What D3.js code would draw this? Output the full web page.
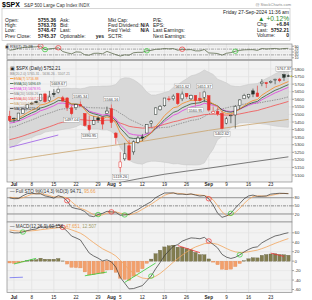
<!DOCTYPE html>
<html>
<head>
<meta charset="utf-8">
<script src="https://cdn.jsdelivr.net/npm/d3@7"></script>
<style>
body { margin: 0; background: #fff; }
svg text { font-family: "Liberation Sans", Arial, sans-serif; }
</style>
</head>
<body>
<div id="app"></div>
<script>
// trading days shown (Jun 28 .. Sep 27, 2024)
const dates = ["2024-06-28",
 "2024-07-01","2024-07-02","2024-07-03","2024-07-05","2024-07-08","2024-07-09","2024-07-10","2024-07-11","2024-07-12",
 "2024-07-15","2024-07-16","2024-07-17","2024-07-18","2024-07-19","2024-07-22","2024-07-23","2024-07-24","2024-07-25",
 "2024-07-26","2024-07-29","2024-07-30","2024-07-31",
 "2024-08-01","2024-08-02","2024-08-05","2024-08-06","2024-08-07","2024-08-08","2024-08-09","2024-08-12","2024-08-13",
 "2024-08-14","2024-08-15","2024-08-16","2024-08-19","2024-08-20","2024-08-21","2024-08-22","2024-08-23","2024-08-26",
 "2024-08-27","2024-08-28","2024-08-29","2024-08-30",
 "2024-09-03","2024-09-04","2024-09-05","2024-09-06","2024-09-09","2024-09-10","2024-09-11","2024-09-12","2024-09-13",
 "2024-09-16","2024-09-17","2024-09-18","2024-09-19","2024-09-20","2024-09-23","2024-09-24","2024-09-25","2024-09-26","2024-09-27"];
const open = [5488.5,
 5471.1,5461.8,5507.4,5537.9,5572.8,5584.2,5591.3,5635.2,5590.8,5638.2,5644.1,5610.1,5608.6,5543.4,5544.2,5565.3,5505.8,5428.7,5433.7,5476.6,5478.7,5505.6,
 5537.8,5376.6,5151.1,5206.4,5293.1,5252.6,5314.9,5351.9,5377.0,5442.0,5501.1,5530.5,5557.2,5602.9,5603.1,5637.8,5602.9,5639.7,5602.9,5624.5,5607.3,5612.7,
 5623.9,5506.7,5520.1,5507.3,5442.1,5490.5,5496.4,5557.5,5603.3,5615.2,5655.5,5641.7,5702.6,5709.2,5711.9,5727.0,5733.3,5762.2,5755.4];
const high = [5523.6,
 5479.6,5509.7,5539.3,5570.3,5583.1,5590.8,5635.4,5642.5,5655.6,5666.9,5669.7,5622.5,5614.1,5557.5,5570.4,5585.3,5508.0,5491.6,5488.3,5487.7,5489.5,5551.5,
 5566.2,5383.9,5250.9,5312.3,5330.6,5328.0,5358.7,5371.2,5436.5,5463.2,5546.2,5562.0,5608.3,5620.5,5632.7,5643.2,5651.6,5639.7,5631.2,5627.0,5647.0,5651.4,
 5623.9,5552.7,5546.3,5522.5,5484.2,5497.9,5560.4,5600.7,5636.3,5636.1,5670.8,5689.8,5733.6,5715.1,5725.4,5735.3,5741.0,5767.4,5763.8];
const low = [5451.1,
 5446.5,5458.4,5507.4,5531.6,5562.5,5574.6,5586.4,5576.5,5583.1,5614.1,5639.0,5584.8,5522.8,5497.0,5529.0,5550.9,5420.0,5391.0,5430.7,5444.4,5401.7,5504.4,
 5410.4,5302.4,5119.3,5193.6,5195.5,5233.9,5306.2,5324.4,5377.0,5416.0,5501.1,5525.2,5550.7,5585.5,5591.6,5561.0,5587.9,5602.8,5593.5,5560.2,5583.7,5581.3,
 5518.3,5503.4,5490.4,5402.6,5434.5,5441.7,5407.0,5535.5,5601.6,5604.5,5614.1,5615.1,5686.4,5674.5,5704.2,5699.0,5712.3,5721.0,5748.5];
const close = [5460.5,
 5475.1,5509.0,5537.0,5567.2,5572.9,5577.0,5633.9,5584.5,5615.4,5631.2,5667.2,5588.3,5544.6,5505.0,5564.4,5555.7,5427.1,5399.2,5459.1,5463.5,5436.4,5522.3,
 5446.7,5346.6,5186.3,5240.0,5199.5,5319.3,5344.2,5344.4,5434.4,5455.2,5543.2,5554.3,5608.3,5597.1,5620.9,5570.6,5634.6,5616.8,5625.8,5592.2,5592.0,5648.4,
 5528.9,5520.1,5503.4,5408.4,5471.1,5495.5,5554.1,5595.8,5626.0,5633.1,5634.6,5618.3,5713.6,5702.6,5718.6,5732.9,5722.3,5745.4,5752.2];

// June warm-up history for the indicators (Jun 3 .. Jun 27)
const juneClose = [5283.4,5291.3,5354.0,5353.0,5347.0,5360.8,5375.3,5421.0,5433.7,5431.6,5473.2,5487.0,5473.2,5464.6,5447.9,5469.3,5477.9,5482.9];
const juneHigh  = [5302.1,5298.8,5354.2,5362.4,5375.1,5365.8,5375.1,5447.3,5447.3,5432.4,5488.5,5490.4,5505.5,5478.3,5490.8,5472.9,5483.1,5490.8];
const juneLow   = [5234.3,5257.6,5297.0,5335.4,5331.5,5331.3,5331.1,5395.9,5403.7,5403.8,5420.4,5471.3,5455.6,5452.0,5447.3,5446.6,5452.0,5469.5];

// starting values (Jun 3) of the EMAs and MACD, estimated
const emaPeriods = [7, 10, 13, 40];
const emaSeeds = [5280, 5275, 5270, 5185];
const emaColors = ["#f5891f", "#2d5a3a", "#e03ce0", "#f25050"];
const macdSeeds = [5268, 5215, 52];

// long averages
const ma100Dates = ["2024-06-28","2024-07-22","2024-08-12","2024-09-03","2024-09-27"];
const ma100Vals = [5195, 5262, 5322, 5395, 5467];
const ma200Dates = ["2024-08-01","2024-08-19","2024-09-03","2024-09-16","2024-09-27"];
const ma200Vals = [5040, 5105, 5145, 5183, 5220];

// x axis
const tickDates = ["2024-07-01","2024-07-08","2024-07-15","2024-07-22","2024-07-29","2024-08-01","2024-08-05","2024-08-12",
 "2024-08-19","2024-08-26","2024-09-03","2024-09-09","2024-09-16","2024-09-23"];
const tickText = ["Jul","8","15","22","29","Aug","5","12","19","26","Sep","9","16","23"];

// labels on the price panel
const priceNotes = [
 ["2024-07-16", "high", "5669.67"], ["2024-07-19", "low", "5497.04"], ["2024-07-23", "high", "5585.34"],
 ["2024-07-25", "low", "5390.95"], ["2024-08-01", "high", "5566.16"], ["2024-08-05", "low", "5119.26"],
 ["2024-08-23", "high", "5651.62"], ["2024-08-28", "low", "5560.95"], ["2024-08-30", "high", "5651.37"],
 ["2024-09-06", "low", "5402.62"], ["2024-09-26", "high", "5767.37"]];

// signal markers
const rsiMarks = [["2024-07-10","#e33"],["2024-07-11","#3c3"],["2024-07-16","#e33"],["2024-08-13","#3c3"],["2024-08-23","#e33"],["2024-09-11","#3c3"]];
const stoMarks = [["2024-07-18","#e33"],["2024-07-29","#3c3"],["2024-08-01","#e33"],["2024-08-06","#3c3"],["2024-09-03","#e33"],["2024-09-10","#3c3"]];
const macdMarks = [["2024-07-03","#3c3"],["2024-07-17","#e33"],["2024-08-14","#3c3"],["2024-09-03","#e33"],["2024-09-12","#3c3"]];

// hand drawn lines: [date1, value1, date2, value2, colour]
const mainLines = [["2024-06-28", 5282, "2024-07-16", 5364, "#9b59e6"]];
const macdLines = [
 ["2024-06-28", -35, "2024-07-03", -34, "#6f6ff0"],
 ["2024-07-01", -6, "2024-07-09", 6, "#3c3"], ["2024-07-24", -31, "2024-07-31", -23, "#3c3"],
 ["2024-08-06", -45, "2024-08-15", -4, "#3c3"], ["2024-08-22", 33, "2024-08-29", 18, "#e33"],
 ["2024-09-23", 17, "2024-09-26", 10, "#e33"]];

const mainLegend = [
 ["BB(20,2.0) 5765.31 - 5636.26 - 5507.21", "#888"],
 ["EMA(7) 5716.88", emaColors[0]], ["EMA(10) 5696.69", emaColors[1]], ["EMA(13) 5678.95", emaColors[2]],
 ["MA(20) 5636.26", "#888"], ["EMA(40) 5567.27", emaColors[3]], ["MA(100) 5467.06", "#c9a36c"], ["MA(200) 5219.64", "#333"]];

// ---------- indicators ----------
const n0 = juneClose.length;
const allC = juneClose.concat(close), allH = juneHigh.concat(high), allL = juneLow.concat(low);
function ema(arr, n, seed) {
  const k = 2 / (n + 1); let e = seed;
  return arr.map((v, i) => i === 0 ? e : (e = v * k + e * (1 - k)));
}
const emas = emaPeriods.map((p, j) => ema(allC, p, emaSeeds[j]).slice(n0));
const ma20 = [], bbU = [], bbL = [];
for (let i = n0; i < allC.length; i++) {
  const w = allC.slice(Math.max(0, i - 19), i + 1);
  const m = d3.mean(w), sd = Math.sqrt(d3.mean(w, v => (v - m) * (v - m)));
  ma20.push(m); bbU.push(m + 2 * sd); bbL.push(m - 2 * sd);
}
const e12 = ema(allC, 12, macdSeeds[0]), e26 = ema(allC, 26, macdSeeds[1]);
const macdAll = e12.map((v, i) => v - e26[i]);
const sigAll = ema(macdAll, 9, macdSeeds[2]);
const macd = macdAll.slice(n0), signal = sigAll.slice(n0), hist = macd.map((v, i) => v - signal[i]);
// RSI(7)
const rsiAll = []; let ag = 0, al = 0;
for (let i = 1; i < allC.length; i++) {
  const ch = allC[i] - allC[i - 1], g = Math.max(ch, 0), l = Math.max(-ch, 0);
  if (i <= 7) { ag += g / 7; al += l / 7; } else { ag = (ag * 6 + g) / 7; al = (al * 6 + l) / 7; }
  rsiAll[i] = i >= 7 ? 100 - 100 / (1 + ag / al) : null;
}
const rsi = rsiAll.slice(n0);
// Full stochastic 14,3,3
const rawK = allC.map((c, i) => {
  if (i < 13) return null;
  const hh = d3.max(allH.slice(i - 13, i + 1)), ll = d3.min(allL.slice(i - 13, i + 1));
  return (c - ll) / (hh - ll) * 100;
});
const sma3 = a => a.map((v, i) => (i < 2 || a[i - 2] == null) ? null : (a[i] + a[i - 1] + a[i - 2]) / 3);
const kAll = sma3(rawK), dAll = sma3(kAll);
const stoK = kAll.slice(n0), stoD = dAll.slice(n0);

// ---------- drawing ----------
const W = 312, H = 300, PL = 7, PR = 292;
const svg = d3.select("#app").append("svg").attr("width", W).attr("height", H);
const x = d3.scaleLinear().domain([0, dates.length - 1]).range([9.6, 288.4]);
const di = d => dates.indexOf(d);
const I = d3.range(dates.length);

const yRsi = d3.scaleLinear().domain([0, 100]).range([59.2, 44.8]);
const yMain = d3.scaleLinear().domain([5100, 5800]).range([175, 69]);
const ySto = d3.scaleLinear().domain([0, 100]).range([219.4, 192.3]);
const yMacd = d3.scaleLinear().domain([-60, 60]).range([289.5, 232.8]);

function panel(name, top, bot, y, ticks, fs) {
  svg.append("clipPath").attr("id", "c" + name).append("rect")
    .attr("x", PL).attr("y", top).attr("width", PR - PL).attr("height", bot - top);
  svg.append("rect").attr("x", PL).attr("y", top).attr("width", PR - PL).attr("height", bot - top).attr("fill", "#f2f2f2");
  const g = svg.append("g").attr("clip-path", `url(#c${name})`);
  g.selectAll(null).data(tickDates).join("line")
    .attr("x1", d => x(di(d))).attr("x2", d => x(di(d))).attr("y1", top).attr("y2", bot)
    .attr("stroke", "#dcdcdc").attr("stroke-width", 0.6);
  g.selectAll(null).data(ticks).join("line")
    .attr("x1", PL).attr("x2", PR).attr("y1", d => y(d)).attr("y2", d => y(d))
    .attr("stroke", "#e2e2e2").attr("stroke-width", 0.6);
  const ax = svg.append("g");
  ax.selectAll(null).data(ticks).join("line")
    .attr("x1", PR).attr("x2", PR + 2).attr("y1", d => y(d)).attr("y2", d => y(d)).attr("stroke", "#666").attr("stroke-width", 0.6);
  ax.selectAll(null).data(ticks).join("text")
    .attr("x", PR + 2.5).attr("y", d => y(d) + fs * 0.36).attr("font-size", fs).attr("fill", "#333").text(d => d);
  return g;
}
function frame(top, bot) {
  svg.append("rect").attr("x", PL).attr("y", top).attr("width", PR - PL).attr("height", bot - top)
    .attr("fill", "none").attr("stroke", "#8a8a8a").attr("stroke-width", 0.7);
}
const lineOf = y => d3.line().defined(v => v != null).x((v, i) => x(i)).y(v => y(v));
function marks(g, list, y, vals) {
  g.selectAll(null).data(list).join("ellipse")
    .attr("cx", d => x(di(d[0]))).attr("cy", d => y(vals[di(d[0])]))
    .attr("rx", 2.6).attr("ry", 2.2).attr("fill", "none").attr("stroke", d => d[1]).attr("stroke-width", 0.7);
}
function handLines(g, list, y) {
  g.selectAll(null).data(list).join("line")
    .attr("x1", d => x(di(d[0]))).attr("y1", d => y(d[1])).attr("x2", d => x(di(d[2]))).attr("y2", d => y(d[3]))
    .attr("stroke", d => d[4]).attr("stroke-width", 0.8);
}

// ---- header ----
svg.append("text").attr("x", 2).attr("y", 7).attr("font-size", 7).attr("font-weight", "bold").text("$SPX");
svg.append("text").attr("x", 24).attr("y", 6.6).attr("font-size", 4.6).attr("fill", "#333").text("S&P 500 Large Cap Index  INDX");
svg.append("text").attr("x", 291).attr("y", 5.5).attr("font-size", 4).attr("fill", "#888").attr("text-anchor", "end").text("@ StockCharts.com");
svg.append("rect").attr("x", 2).attr("y", 8.5).attr("width", 288).attr("height", 32).attr("fill", "#fff").attr("stroke", "#bbb").attr("stroke-width", 0.6);
const info = svg.append("g").attr("font-size", 5).attr("fill", "#222");
const rowsY = [21.8, 26.9, 32.4, 37.8];
const infoCols = [
 [5, ["Open:", "High:", "Low:", "Prev Close:"], "start", false],
 [56, ["5755.36", "5763.78", "5748.47", "5745.37"], "end", true],
 [60, ["Ask:", "Bid:", "Last:", "Optionable:"], "start", false],
 [104, ["", "", "", "yes"], "end", true],
 [108, ["Mkt Cap:", "Fwd Dividend:", "Fwd Yield:", "SCTR:"], "start", false],
 [149, ["", "N/A", "N/A", ""], "end", true],
 [153, ["P/E:", "EPS:", "Last Earnings:", "Next Earnings:"], "start", false]];
infoCols.forEach(c => c[1].forEach((t, r) => info.append("text").attr("x", c[0]).attr("y", rowsY[r])
  .attr("text-anchor", c[2]).attr("font-weight", c[3] ? "bold" : null).text(t)));
info.append("text").attr("x", 289).attr("y", 14).attr("text-anchor", "end").text("Friday 27-Sep-2024 11:36 am");
info.append("text").attr("x", 289).attr("y", 20.5).attr("text-anchor", "end").attr("font-size", 6.6).attr("fill", "#2a8a2a").text("\u25B2 +0.12%");
[["Chg:", "+6.84", 26], ["Last:", "5752.21", 31.6], ["Volume:", "0", 37.2]].forEach(r => {
  info.append("text").attr("x", 257).attr("y", r[2]).text(r[0]);
  info.append("text").attr("x", 289).attr("y", r[2]).attr("text-anchor", "end").attr("font-weight", "bold").text(r[1]);
});

// ---- RSI panel ----
const gR = panel("rsi", 44, 59.5, yRsi, [90, 70, 50, 30, 10], 3.6);
gR.selectAll(null).data([70, 30]).join("line").attr("x1", PL).attr("x2", PR).attr("y1", d => yRsi(d)).attr("y2", d => yRsi(d))
  .attr("stroke", "#666").attr("stroke-width", 0.5).attr("stroke-dasharray", "3,1,1,1");
gR.append("path").datum(rsi).attr("d", lineOf(yRsi)).attr("fill", "none").attr("stroke", "#4a5a3a").attr("stroke-width", 0.7);
marks(gR, rsiMarks, yRsi, rsi);
frame(44, 59.5);
svg.append("text").attr("x", 5).attr("y", 48.3).attr("font-size", 4).attr("font-family", "DejaVu Sans Mono").attr("fill", "#333").text("\u25A3 RSI(7) 75.28");

// ---- main panel ----
const gM = panel("main", 60.5, 182, yMain, d3.range(5100, 5801, 50), 4.3);
gM.append("path").datum(I).attr("fill", "#d8d8d8").attr("stroke", "#c4c4c4").attr("stroke-width", 0.5)
  .attr("d", d3.area().x(i => x(i)).y0(i => yMain(bbL[i])).y1(i => yMain(bbU[i])));
const sparse = (ds, vs) => ds.map((d, k) => [di(d), vs[k]]);
const sLine = d3.line().curve(d3.curveMonotoneX).x(d => x(d[0])).y(d => yMain(d[1]));
gM.append("path").attr("d", sLine(sparse(ma200Dates, ma200Vals))).attr("fill", "none").attr("stroke", "#444").attr("stroke-width", 0.7);
gM.append("path").attr("d", sLine(sparse(ma100Dates, ma100Vals))).attr("fill", "none").attr("stroke", "#c9a36c").attr("stroke-width", 0.8);
handLines(gM, mainLines, yMain);
gM.append("path").datum(ma20).attr("d", lineOf(yMain)).attr("fill", "none").attr("stroke", "#7a7a7a").attr("stroke-width", 0.7).attr("stroke-dasharray", "1.5,1");
[3, 2, 1, 0].forEach(j => gM.append("path").datum(emas[j]).attr("d", lineOf(yMain)).attr("fill", "none")
  .attr("stroke", emaColors[j]).attr("stroke-width", 0.8));
// candles
const cw = 2.6;
const cCol = i => close[i] >= (i ? close[i - 1] : juneClose[n0 - 1]) ? "#26302a" : "#e8332f";
gM.selectAll(null).data(I).join("line")
  .attr("x1", i => x(i)).attr("x2", i => x(i)).attr("y1", i => yMain(high[i])).attr("y2", i => yMain(low[i]))
  .attr("stroke", cCol).attr("stroke-width", 0.6);
gM.selectAll(null).data(I).join("rect")
  .attr("x", i => x(i) - cw / 2).attr("width", cw)
  .attr("y", i => yMain(Math.max(open[i], close[i])))
  .attr("height", i => Math.max(0.6, Math.abs(yMain(open[i]) - yMain(close[i]))))
  .attr("fill", i => close[i] < open[i] ? cCol(i) : "#fff").attr("stroke", cCol).attr("stroke-width", 0.5);
// last price marker
const li = dates.length - 1;
gM.append("path").attr("d", `M${x(li) + 1.8},${yMain(close[li])} l3,-1.8 v3.6 z`).attr("fill", "#e8e02a").attr("stroke", "#9a9a20").attr("stroke-width", 0.3);
// price notes
priceNotes.forEach(p => {
  const i = di(p[0]), up = p[1] === "high";
  const yy = yMain(up ? high[i] : low[i]);
  const by = up ? yy - 7.5 : yy + 2.5;
  const t = gM.append("text").attr("x", x(i)).attr("y", by + 3.7).attr("font-size", 3.9).attr("text-anchor", "middle")
    .attr("fill", "#333").text(p[2]);
  const w = t.node().getComputedTextLength() + 2;
  gM.insert("rect", "text").attr("x", x(i) - w / 2).attr("y", by).attr("width", w).attr("height", 4.8)
    .attr("fill", "#fff").attr("stroke", "#999").attr("stroke-width", 0.4);
  gM.append("line").attr("x1", x(i)).attr("x2", x(i)).attr("y1", up ? by + 4.8 : by).attr("y2", yy)
    .attr("stroke", "#999").attr("stroke-width", 0.4);
});
frame(60.5, 182);
// legend
svg.append("text").attr("x", 10).attr("y", 70).attr("font-size", 4.6).attr("font-family", "DejaVu Sans Mono")
  .attr("fill", "#222").text("\u25A3 $SPX (Daily) 5752.21");
mainLegend.forEach((r, k) => {
  const yy = 74.6 + k * 5;
  if (k > 0) svg.append("line").attr("x1", 10).attr("x2", 13.5).attr("y1", yy - 1.1).attr("y2", yy - 1.1).attr("stroke", r[1]).attr("stroke-width", 0.8);
  svg.append("text").attr("x", k > 0 ? 14 : 10).attr("y", yy).attr("font-size", 3.4).attr("font-family", "DejaVu Sans Mono")
    .attr("fill", r[1]).text(r[0]);
});
// x labels under main panel and under MACD panel
[186.2, 298.6].forEach(yy => svg.append("g").selectAll(null).data(tickDates).join("text")
  .attr("x", d => x(di(d))).attr("y", yy).attr("font-size", 4.6).attr("text-anchor", "middle")
  .attr("font-weight", (d, k) => isNaN(+tickText[k]) ? "bold" : null).attr("fill", "#222").text((d, k) => tickText[k]));

// ---- STO panel ----
const gS = panel("sto", 188, 222, ySto, [80, 50, 20], 4.3);
gS.selectAll(null).data([80, 50, 20]).join("line").attr("x1", PL).attr("x2", PR).attr("y1", d => ySto(d)).attr("y2", d => ySto(d))
  .attr("stroke", "#555").attr("stroke-width", 0.6).attr("stroke-dasharray", d => d === 50 ? "3,1,1,1" : null);
gS.append("path").datum(stoD).attr("d", lineOf(ySto)).attr("fill", "none").attr("stroke", "#f2a55c").attr("stroke-width", 0.8);
gS.append("path").datum(stoK).attr("d", lineOf(ySto)).attr("fill", "none").attr("stroke", "#333").attr("stroke-width", 0.7);
marks(gS, stoMarks, ySto, stoK);
frame(188, 222);
const tS = svg.append("text").attr("x", 10).attr("y", 192.8).attr("font-size", 4.6).attr("font-family", "DejaVu Sans Mono");
tS.append("tspan").attr("fill", "#333").text("\u2014 Full STO %K(14,3) %D(3) 94.71, ");
tS.append("tspan").attr("fill", "#f0a050").text("95.66");

// ---- MACD panel ----
const gD = panel("macd", 222, 292.5, yMacd, [60, 40, 20, 0, -20, -40, -60], 4.3);
gD.selectAll(null).data(I).join("rect")
  .attr("x", i => x(i) - 1.7).attr("width", 3.4)
  .attr("y", i => yMacd(Math.max(0, hist[i]))).attr("height", i => Math.abs(yMacd(hist[i]) - yMacd(0)))
  .attr("fill", i => hist[i] >= 0 ? "#827d4f" : "#f2a06c").attr("stroke", i => hist[i] >= 0 ? "#5a5636" : "#e08650").attr("stroke-width", 0.3);
gD.append("path").datum(signal).attr("d", lineOf(yMacd)).attr("fill", "none").attr("stroke", "#f2a55c").attr("stroke-width", 0.8);
gD.append("path").datum(macd).attr("d", lineOf(yMacd)).attr("fill", "none").attr("stroke", "#333").attr("stroke-width", 0.7);
handLines(gD, macdLines, yMacd);
marks(gD, macdMarks, yMacd, macd);
frame(222, 292.5);
const tD = svg.append("text").attr("x", 10).attr("y", 227.6).attr("font-size", 4.6).attr("font-family", "DejaVu Sans Mono");
tD.append("tspan").attr("fill", "#333").text("\u2014 MACD(12,26,9) 60.158, ");
tD.append("tspan").attr("fill", "#f0a050").text("47.651, ");
tD.append("tspan").attr("fill", "#a09a6a").text("12.507");
</script>
</body>
</html>
